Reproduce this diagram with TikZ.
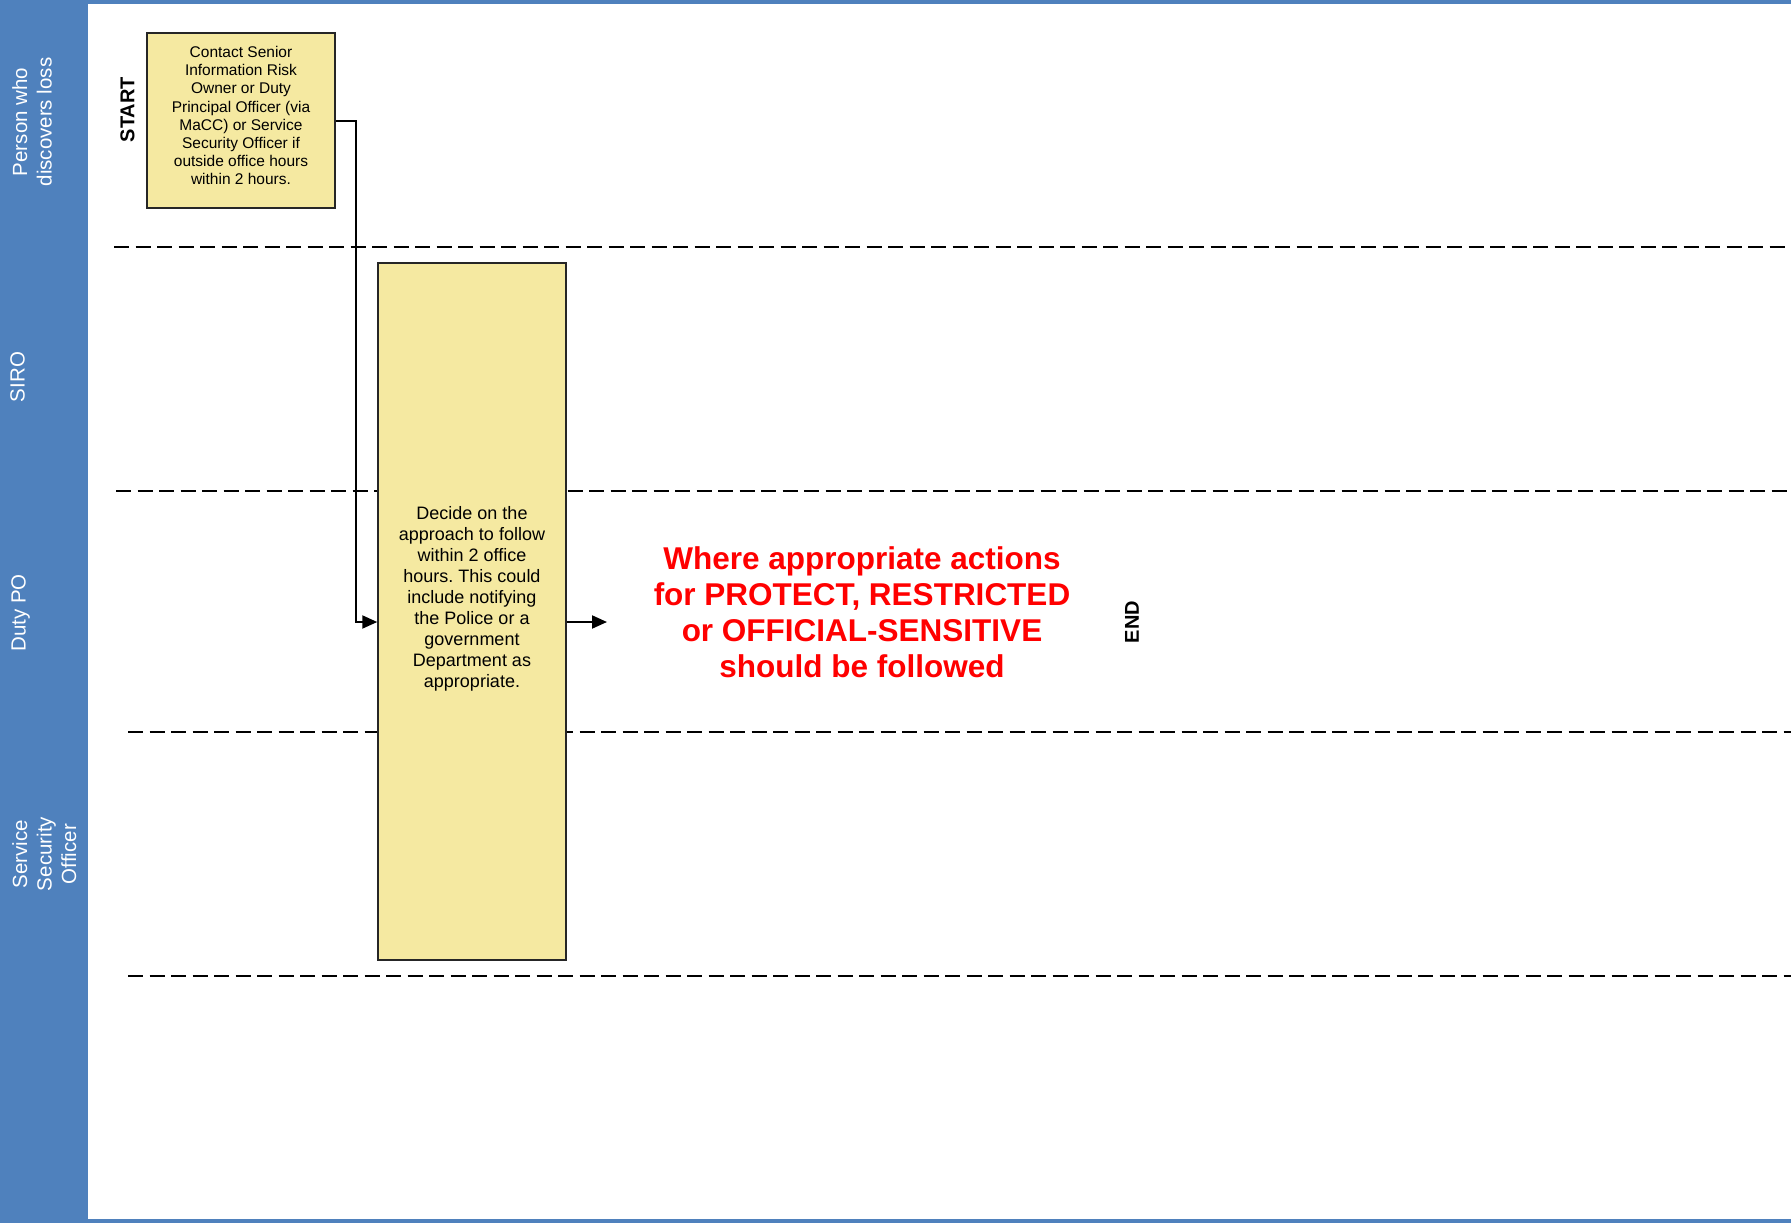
\documentclass[tikz,border=0pt]{standalone}
\usepackage{fontspec}
\setmainfont{Liberation Sans}
\usetikzlibrary{arrows.meta}
\definecolor{lanebg}{RGB}{79,129,189}
\definecolor{boxfill}{RGB}{245,233,161}
\frenchspacing
\begin{document}
\begin{tikzpicture}[x=1pt,y=-1pt,
 lane/.style={rotate=90,anchor=north,text=white,font=\fontsize{20.5}{24.5}\selectfont,align=center,inner sep=0pt},
 procbox/.style={draw=black!85,line width=1.5pt,fill=boxfill,inner sep=0pt},
 lanesep/.style={dash pattern=on 15pt off 6.5pt,line width=2pt},
 flow/.style={line width=2pt,-{Triangle[length=15pt,width=13pt]}},
 term/.style={rotate=90,font=\bfseries\fontsize{20}{24}\selectfont,inner sep=0pt}]
\fill[lanebg] (0,0) rectangle (1791,1223);
\fill[white] (88,4) rectangle (1791,1219);
\useasboundingbox (0,0) rectangle (1791,1223);
% lane labels
\node[lane] (l1) at (12,122) {Person who\\discovers loss};
\node[lane] (l2) at (10,377) {SIRO};
\node[lane] (l3) at (11,613) {Duty PO};
\node[lane] (l4) at (12,854) {Service\\Security\\Officer};
% lane separators
\coordinate (s1a) at (114,247); \coordinate (s1b) at (1791,247);
\coordinate (s2a) at (116,491); \coordinate (s2b) at (1791,491);
\coordinate (s3a) at (128,732); \coordinate (s3b) at (1791,732);
\coordinate (s4a) at (128,976); \coordinate (s4b) at (1791,976);
\draw[lanesep] (s1a) -- (s1b);
\draw[lanesep] (s2a) -- (s2b);
\draw[lanesep] (s3a) -- (s3b);
\draw[lanesep] (s4a) -- (s4b);
% boxes
\node[procbox,minimum width=188pt,minimum height=175pt,
  label={[align=center,font=\fontsize{15.5}{18.2}\selectfont,yshift=5pt]center:Contact Senior\\Information Risk\\Owner or Duty\\Principal Officer (via\\MaCC) or Service\\Security Officer if\\outside office hours\\within 2 hours.}] (b1) at (241,120.7) {};
\node[procbox,minimum width=188pt,minimum height=697pt,
  label={[align=center,font=\fontsize{18}{21}\selectfont,yshift=13pt]center:Decide on the\\approach to follow\\within 2 office\\hours. This could\\include notifying\\the Police or a\\government\\Department as\\appropriate.}] (b2) at (472,611.5) {};
\node[term] (start) at (127.5,109.5) {START};
\node[term] (end) at (1132,622) {END};
\node[align=center,text=red,font=\bfseries\fontsize{31.5}{36}\selectfont] (note) at (862,612) {Where appropriate actions\\for PROTECT, RESTRICTED\\or OFFICIAL-SENSITIVE\\should be followed};
% connectors
\coordinate (bend) at (356,622);
\coordinate (outend) at (607,622);
\draw[flow] (b1.east) -| (bend) -- (b2.west |- bend);
\draw[flow] (b2.east |- outend) -- (outend);
\end{tikzpicture}
\end{document}
